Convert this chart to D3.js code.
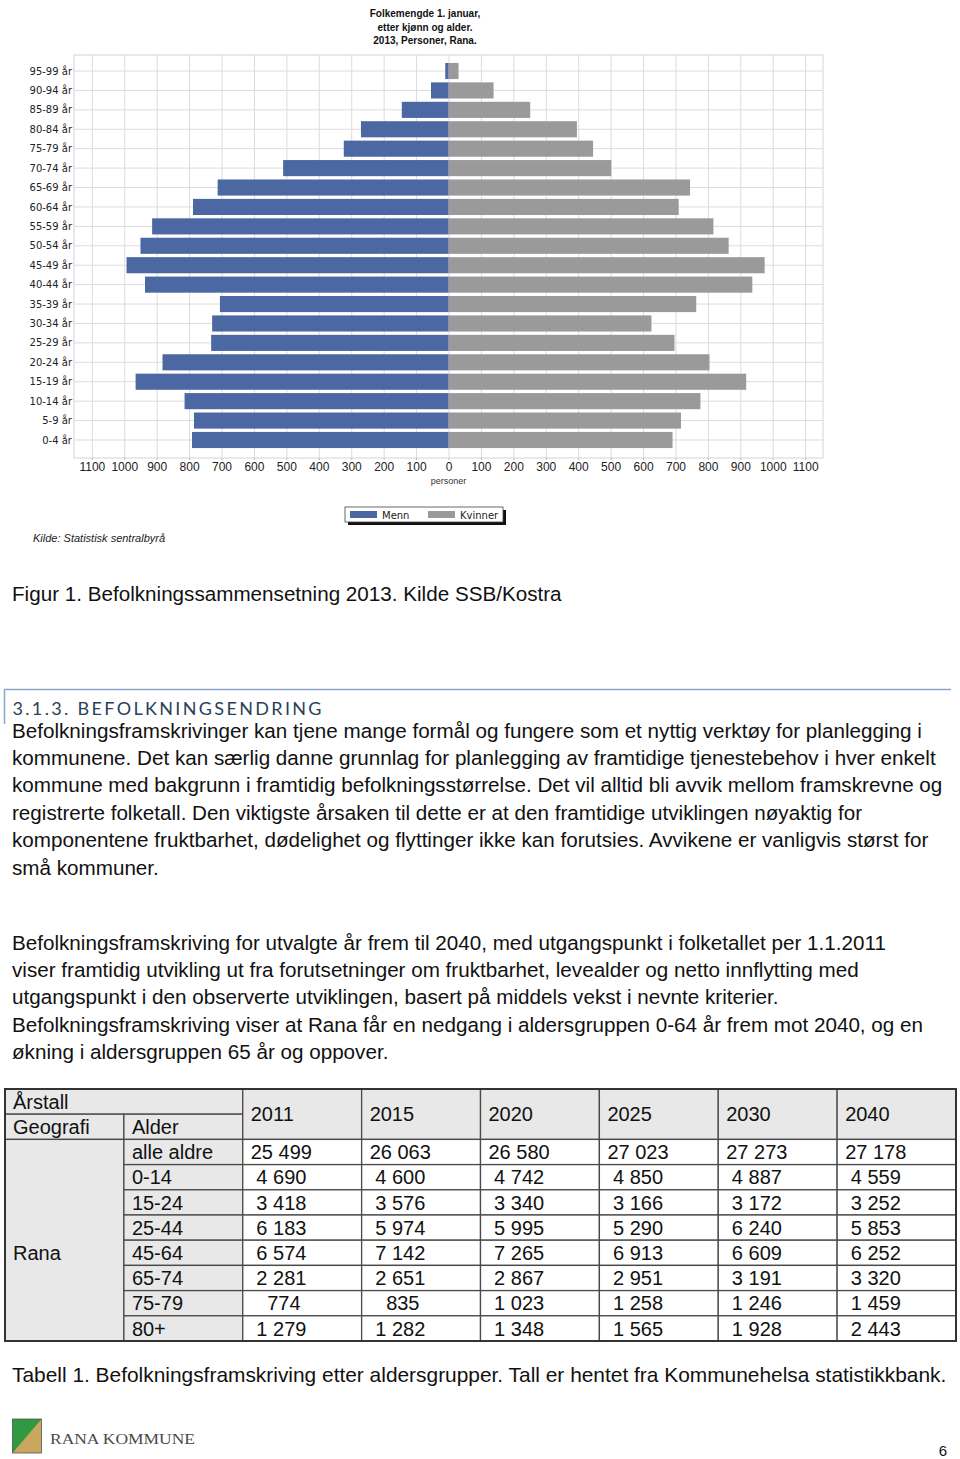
<!DOCTYPE html>
<html>
<head>
<meta charset="utf-8">
<script src="https://cdn.jsdelivr.net/npm/d3@7"></script>
<style>
  body { margin: 0; background: #fff; }
  svg { display: block; }
  .sans { font-family: "Liberation Sans", Arial, sans-serif; }
  .small { font-family: "DejaVu Sans", Verdana, sans-serif; font-size: 10px; fill: #222; }
  .xtick text { font-family: "Liberation Sans Narrow", "Liberation Sans", Arial, sans-serif; font-size: 12px; fill: #222; }
</style>
</head>
<body>
<div id="page"></div>
<script>
// ---- chart data (Folkemengde 1. januar 2013, Rana) ----
var ageGroups = ["0-4 år", "5-9 år", "10-14 år", "15-19 år", "20-24 år", "25-29 år", "30-34 år",
  "35-39 år", "40-44 år", "45-49 år", "50-54 år", "55-59 år", "60-64 år", "65-69 år", "70-74 år",
  "75-79 år", "80-84 år", "85-89 år", "90-94 år", "95-99 år"];
var menn =    [791, 785, 814, 965, 882, 732, 729, 705, 936, 993, 950, 914, 788, 712, 510, 323, 270, 144, 54, 10];
var kvinner = [691, 717, 777, 918, 805, 697, 626, 764, 937, 975, 864, 817, 710, 745, 502, 446, 396, 252, 139, 31];
var xTicks = [-1100, -1000, -900, -800, -700, -600, -500, -400, -300, -200, -100, 0,
  100, 200, 300, 400, 500, 600, 700, 800, 900, 1000, 1100];
var chartTitle = ["Folkemengde 1. januar,", "etter kjønn og alder.", "2013, Personer, Rana."];
var seriesNames = ["Menn", "Kvinner"];

// ---- table data ----
var years = ["2011", "2015", "2020", "2025", "2030", "2040"];
var ageBands = ["alle aldre", "0-14", "15-24", "25-44", "45-64", "65-74", "75-79", "80+"];
var projections = [
  [25499, 26063, 26580, 27023, 27273, 27178],
  [4690, 4600, 4742, 4850, 4887, 4559],
  [3418, 3576, 3340, 3166, 3172, 3252],
  [6183, 5974, 5995, 5290, 6240, 5853],
  [6574, 7142, 7265, 6913, 6609, 6252],
  [2281, 2651, 2867, 2951, 3191, 3320],
  [774, 835, 1023, 1258, 1246, 1459],
  [1279, 1282, 1348, 1565, 1928, 2443]
];

// ---- page text ----
var para1 = [
  "Befolkningsframskrivinger kan tjene mange formål og fungere som et nyttig verktøy for planlegging i",
  "kommunene. Det kan særlig danne grunnlag for planlegging av framtidige tjenestebehov i hver enkelt",
  "kommune med bakgrunn i framtidig befolkningsstørrelse. Det vil alltid bli avvik mellom framskrevne og",
  "registrerte folketall. Den viktigste årsaken til dette er at den framtidige utviklingen nøyaktig for",
  "komponentene fruktbarhet, dødelighet og flyttinger ikke kan forutsies. Avvikene er vanligvis størst for",
  "små kommuner."
];
var para2 = [
  "Befolkningsframskriving for utvalgte år frem til 2040, med utgangspunkt i folketallet per 1.1.2011",
  "viser framtidig utvikling ut fra forutsetninger om fruktbarhet, levealder og netto innflytting med",
  "utgangspunkt i den observerte utviklingen, basert på middels vekst i nevnte kriterier.",
  "Befolkningsframskriving viser at Rana får en nedgang i aldersgruppen 0-64 år frem mot 2040, og en",
  "økning i aldersgruppen 65 år og oppover."
];

var blue = "#4b68a3";
var grey = "#9a9a9a";

var svg = d3.select("#page")
  .append("svg")
  .attr("width", 960)
  .attr("height", 1459);

svg.append("rect").attr("width", 960).attr("height", 1459).attr("fill", "#fff");

// =================== population pyramid ===================
var plot = {left: 74, right: 823, top: 55, bottom: 458};

var x = d3.scaleLinear()
  .domain([-1155, 1155])
  .range([plot.left, plot.right]);

var y = d3.scaleBand()
  .domain(ageGroups.slice().reverse())
  .range([61.3, 449.7])
  .paddingInner(0.17)
  .paddingOuter(0.085);

var rows = ageGroups.map((g, i) => ({age: g, menn: menn[i], kvinner: kvinner[i]}));

var chart = svg.append("g");

// title
chart.append("g").selectAll("text")
  .data(chartTitle)
  .enter()
  .append("text")
  .attr("class", "sans")
  .attr("x", 425)
  .attr("y", (d, i) => 17 + i * 13.5)
  .attr("text-anchor", "middle")
  .attr("font-size", 10)
  .attr("font-weight", "bold")
  .attr("fill", "#111")
  .text(d => d);

// vertical grid
chart.append("g")
  .attr("transform", `translate(0, ${plot.bottom})`)
  .call(d3.axisBottom(x).tickValues(xTicks).tickSize(-(plot.bottom - plot.top)).tickFormat(""))
  .call(g => g.select(".domain").remove())
  .selectAll("line")
  .attr("stroke", "#dcdcdc");

// horizontal grid through each age group
chart.append("g").selectAll("line")
  .data(ageGroups)
  .enter()
  .append("line")
  .attr("x1", plot.left)
  .attr("x2", plot.right)
  .attr("y1", d => y(d) + y.bandwidth() / 2)
  .attr("y2", d => y(d) + y.bandwidth() / 2)
  .attr("stroke", "#dcdcdc");

chart.append("rect")
  .attr("x", plot.left)
  .attr("y", plot.top)
  .attr("width", plot.right - plot.left)
  .attr("height", plot.bottom - plot.top)
  .attr("fill", "none")
  .attr("stroke", "#d4d4d4");

// bars
chart.append("g").selectAll("rect")
  .data(rows)
  .enter()
  .append("rect")
  .attr("x", x(0))
  .attr("y", d => y(d.age))
  .attr("width", d => x(d.kvinner) - x(0))
  .attr("height", y.bandwidth())
  .attr("fill", grey);

chart.append("g").selectAll("rect")
  .data(rows)
  .enter()
  .append("rect")
  .attr("x", d => x(-d.menn))
  .attr("y", d => y(d.age))
  .attr("width", d => x(0) - x(-d.menn))
  .attr("height", y.bandwidth())
  .attr("fill", blue);

// x axis labels
chart.append("g")
  .attr("class", "xtick")
  .attr("transform", `translate(0, ${plot.bottom})`)
  .call(d3.axisBottom(x).tickValues(xTicks).tickSize(2).tickPadding(2).tickFormat(d => Math.abs(d)))
  .call(g => g.select(".domain").remove())
  .call(g => g.selectAll("line").attr("stroke", "#bbb"));

chart.append("text")
  .attr("class", "sans")
  .attr("x", x(0))
  .attr("y", 484)
  .attr("text-anchor", "middle")
  .attr("font-size", 9)
  .attr("fill", "#333")
  .text("personer");

// y labels
chart.append("g").selectAll("text")
  .data(ageGroups)
  .enter()
  .append("text")
  .attr("class", "small")
  .attr("x", 72)
  .attr("y", d => y(d) + y.bandwidth() / 2)
  .attr("dy", "0.36em")
  .attr("text-anchor", "end")
  .text(d => d);

// legend
var legend = chart.append("g").attr("transform", "translate(345, 507)");
legend.append("rect").attr("x", 3).attr("y", 3).attr("width", 158).attr("height", 15).attr("fill", "#111");
legend.append("rect").attr("width", 158).attr("height", 15).attr("fill", "#fff").attr("stroke", "#444").attr("stroke-width", 0.8);
var legendItems = legend.selectAll("g")
  .data(seriesNames)
  .enter()
  .append("g")
  .attr("transform", (d, i) => `translate(${5 + i * 78}, 4)`);
legendItems.append("rect")
  .attr("width", 27)
  .attr("height", 7)
  .attr("fill", (d, i) => i === 0 ? blue : grey);
legendItems.append("text")
  .attr("class", "small")
  .attr("x", 32)
  .attr("y", 7.5)
  .text(d => d);

chart.append("text")
  .attr("class", "sans")
  .attr("x", 33)
  .attr("y", 542)
  .attr("font-size", 11)
  .attr("font-style", "italic")
  .attr("fill", "#222")
  .text("Kilde: Statistisk sentralbyrå");

// =================== document text ===================
var bodySize = 20.65;

function writeLines(lines, top, size) {
  svg.append("g").selectAll("text")
    .data(lines)
    .enter()
    .append("text")
    .attr("class", "sans")
    .attr("x", 12)
    .attr("y", (d, i) => top + i * 27.4)
    .attr("font-size", size || bodySize)
    .attr("fill", "#111")
    .text(d => d);
}

writeLines(["Figur 1. Befolkningssammensetning 2013. Kilde SSB/Kostra"], 601);

// section heading
svg.append("path")
  .attr("d", "M4.5,724 V689.5 H951")
  .attr("fill", "none")
  .attr("stroke", "#8aa6c8")
  .attr("stroke-width", 1.5);
svg.append("text")
  .attr("x", 12.5)
  .attr("y", 715)
  .attr("font-family", "Lato, 'Open Sans', sans-serif")
  .attr("font-size", 18)
  .attr("fill", "#2a3f5c")
  .attr("textLength", 309)
  .attr("lengthAdjust", "spacing")
  .text("3.1.3. BEFOLKNINGSENDRING");

writeLines(para1, 737.5);
writeLines(para2, 949.5);

// =================== projection table ===================
var col = d3.scaleBand().domain(d3.range(8)).range([5, 956]);
var row = d3.scaleBand().domain(d3.range(10)).range([1089, 1341]);
var cellFill = "#e8e8e8";

var cells = [
  {c0: 0, c1: 1, r0: 0, r1: 0, text: "Årstall", fill: cellFill},
  {c0: 0, c1: 0, r0: 1, r1: 1, text: "Geografi", fill: cellFill},
  {c0: 1, c1: 1, r0: 1, r1: 1, text: "Alder", fill: cellFill},
  {c0: 0, c1: 0, r0: 2, r1: 9, text: "Rana", fill: cellFill, textRow: 6}
];
years.forEach((yr, j) => cells.push({c0: j + 2, c1: j + 2, r0: 0, r1: 1, text: yr, fill: cellFill}));
ageBands.forEach((a, i) => {
  cells.push({c0: 1, c1: 1, r0: i + 2, r1: i + 2, text: a, fill: cellFill});
  projections[i].forEach((v, j) => cells.push({c0: j + 2, c1: j + 2, r0: i + 2, r1: i + 2, value: v, fill: "#fff"}));
});

var nb = d3.formatLocale({decimal: ",", thousands: " ", grouping: [3], currency: ["", " kr"]}).format(",d");

var table = svg.append("g");
var cellG = table.selectAll("g")
  .data(cells)
  .enter()
  .append("g");

cellG.append("rect")
  .attr("x", d => col(d.c0))
  .attr("y", d => row(d.r0))
  .attr("width", d => col(d.c1) + col.bandwidth() - col(d.c0))
  .attr("height", d => row(d.r1) + row.bandwidth() - row(d.r0))
  .attr("fill", d => d.fill)
  .attr("stroke", "#4a4a4a")
  .attr("stroke-width", 1.3);

cellG.append("text")
  .attr("class", "sans")
  .attr("font-size", 20)
  .attr("fill", "#111")
  .attr("x", d => {
    var indent = 0;
    if (d.value !== undefined) indent = d.value >= 10000 ? 0 : d.value >= 1000 ? 5.6 : 16.5;
    return col(d.c0) + 8 + indent;
  })
  .attr("y", d => d.textRow !== undefined
    ? row(d.textRow) + row.bandwidth() / 2
    : (row(d.r0) + row(d.r1) + row.bandwidth()) / 2)
  .attr("dy", "0.36em")
  .text(d => d.value !== undefined ? nb(d.value) : d.text);

table.append("rect")
  .attr("x", 5)
  .attr("y", 1089)
  .attr("width", 951)
  .attr("height", 252)
  .attr("fill", "none")
  .attr("stroke", "#333")
  .attr("stroke-width", 2);

writeLines(["Tabell 1. Befolkningsframskriving etter aldersgrupper. Tall er hentet fra Kommunehelsa statistikkbank."], 1381.5, 20.9);

// =================== footer ===================
var logo = svg.append("g").attr("transform", "translate(12.5, 1419)");
logo.append("rect").attr("width", 29).attr("height", 34).attr("fill", "#c9a75c");
logo.append("path").attr("d", "M0,0 H29 L0,34 Z").attr("fill", "#2f9a41");
logo.append("rect").attr("width", 29).attr("height", 34).attr("fill", "none").attr("stroke", "#555").attr("stroke-width", 0.8);

svg.append("text")
  .attr("x", 50)
  .attr("y", 1443.5)
  .attr("font-family", "'Liberation Serif', 'DejaVu Serif', serif")
  .attr("font-size", 15)
  .attr("fill", "#4a4a4a")
  .attr("textLength", 145)
  .attr("lengthAdjust", "spacingAndGlyphs")
  .text("RANA KOMMUNE");

svg.append("text")
  .attr("class", "sans")
  .attr("x", 947)
  .attr("y", 1456)
  .attr("text-anchor", "end")
  .attr("font-size", 15)
  .attr("fill", "#111")
  .text("6");
</script>
</body>
</html>
